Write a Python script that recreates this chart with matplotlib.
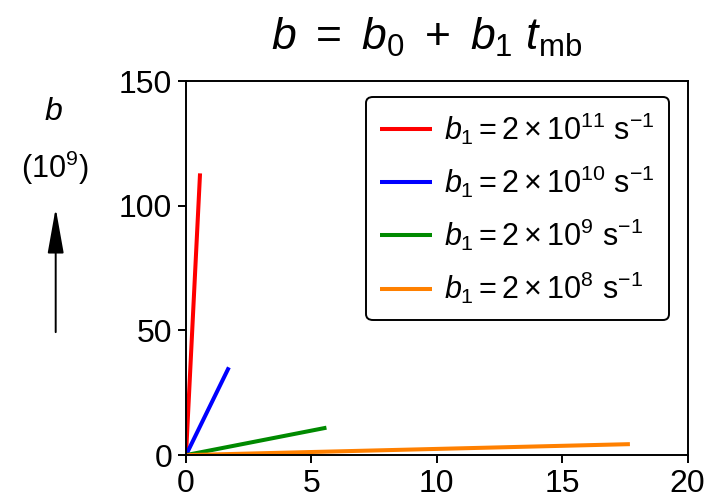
import matplotlib
matplotlib.use('Agg')
import matplotlib.pyplot as plt

plt.rcParams['font.family'] = ['Liberation Sans', 'DejaVu Sans']
plt.rcParams['mathtext.fontset'] = 'custom'
plt.rcParams['mathtext.rm'] = 'Liberation Sans'
plt.rcParams['mathtext.it'] = 'Liberation Sans:italic'
plt.rcParams['mathtext.bf'] = 'Liberation Sans:bold'

# end points of each line (start at 0,0)
t_mb = {
    '11': [0, 0.56],
    '10': [0, 1.71],
    '9': [0, 5.6],
    '8': [0, 17.7],
}
b_vals = {
    '11': [0, 113],
    '10': [0, 35.2],
    '9': [0, 11.0],
    '8': [0, 4.4],
}
colors = {'11': '#ff0000', '10': '#0000ff', '9': '#008a00', '8': '#ff8000'}
exps = ['11', '10', '9', '8']
xticks = [0, 5, 10, 15, 20]
yticks = [0, 50, 100, 150]

fig = plt.figure(figsize=(7.14, 5.04), dpi=100)
ax = fig.add_axes([0.2605, 0.097, 0.7025, 0.742])

for e in exps:
    ax.plot(t_mb[e], b_vals[e], color=colors[e], lw=2.9, solid_capstyle='butt',
            label=r'$b_1 = 2\times10^{%s}\ \mathrm{s}^{-1}$' % e)

ax.set_xlim(0, 20)
ax.set_ylim(0, 150)
ax.set_xticks(xticks)
ax.set_yticks(yticks)
ax.tick_params(labelsize=23, length=6, width=1.4, direction='out', pad=4)
for s in ax.spines.values():
    s.set_linewidth(1.4)

leg = ax.legend(loc='upper right', bbox_to_anchor=(0.975, 0.975), fontsize=22,
                handlelength=1.7, labelspacing=0.55, borderpad=0.45,
                handletextpad=0.4, borderaxespad=0.2, fancybox=True, framealpha=1)
leg.get_frame().set_edgecolor('black')
leg.get_frame().set_linewidth(1.4)

fig.text(0.597, 0.925, r'$b\ =\ b_0\ +\ b_1\ t_{\mathrm{mb}}$', fontsize=32,
         ha='center', va='center')

# y label with upward arrow
fig.text(0.075, 0.778, r'$b$', fontsize=23, ha='center', va='center')
fig.text(0.076, 0.667, r'$(10^9)$', fontsize=22, ha='center', va='center')
fig.add_artist(matplotlib.patches.FancyArrowPatch(
    (0.078, 0.341), (0.078, 0.587), transform=fig.transFigure,
    arrowstyle='-|>,head_length=1.4,head_width=0.25', mutation_scale=20,
    color='black', lw=1.4, shrinkA=0, shrinkB=0))

fig.savefig('out.png', dpi=100)
